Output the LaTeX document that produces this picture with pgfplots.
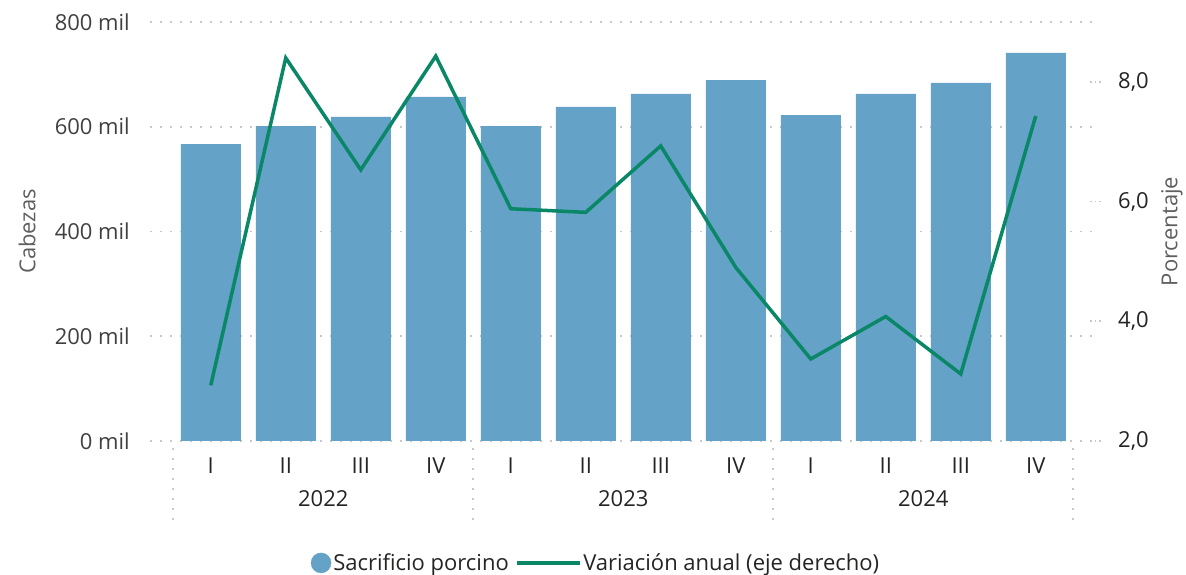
\documentclass[border=0pt]{standalone}
\usepackage{fontspec}
\setmainfont{Open Sans}
\usepackage{pgfplots}
\pgfplotsset{compat=1.18}
\definecolor{barblue}{HTML}{64A2C8}
\definecolor{linegreen}{HTML}{0A8766}
\definecolor{gridgray}{HTML}{C8C8C8}
\definecolor{labgray}{HTML}{605E5C}
\definecolor{tickdark}{HTML}{252423}
\newcommand\ff{\fontsize{22}{26}\selectfont}
\begin{document}
\begin{tikzpicture}[x=1pt,y=1pt]
\useasboundingbox (0,0) rectangle (1186,575);
\begin{axis}[
  at={(150pt,134pt)}, anchor=south west,
  scale only axis, width=945pt, height=419pt,
  xmin=-0.81, xmax=11.79, ymin=0, ymax=800,
  clip=false,
  axis line style={draw=none},
  major tick length=0pt,
  xtick={0,...,11},
  xticklabels={I,II,III,IV,I,II,III,IV,I,II,III,IV},
  xticklabel style={anchor=base, inner sep=0pt, yshift=-33pt, font=\ff, text=tickdark},
  ytick={0,200,400,600,800},
  yticklabels={0 mil,200 mil,400 mil,600 mil,800 mil},
  yticklabel style={anchor=east, inner sep=0pt, xshift=-20pt, font=\ff, text=black!75},
  ymajorgrids,
  grid style={gridgray, line width=1.6pt, dash pattern=on 1.6pt off 8.4pt},
  ylabel={Cabezas},
  ylabel style={at={(axis description cs:-0.130,0.5)}, anchor=center, font=\ff, text=labgray},
]
\addplot[ybar, bar width=0.8, fill=barblue, draw=none] coordinates {
 (0,567) (1,601) (2,619) (3,657) (4,601) (5,638) (6,663) (7,689) (8,622) (9,663) (10,684) (11,741)};
\pgfplotsinvokeforeach{-0.5,3.5,7.5,11.5}{
  \draw[gridgray, line width=1.6pt, dash pattern=on 1.6pt off 8.4pt] ([yshift=-7pt]axis cs:#1,0) -- ([yshift=-79pt]axis cs:#1,0);
}
\node[anchor=base, yshift=-66pt, font=\ff, text=tickdark] at (axis cs:1.5,0) {2022};
\node[anchor=base, yshift=-66pt, font=\ff, text=tickdark] at (axis cs:5.5,0) {2023};
\node[anchor=base, yshift=-66pt, font=\ff, text=tickdark] at (axis cs:9.5,0) {2024};
\end{axis}
\begin{axis}[
  at={(150pt,134pt)}, anchor=south west,
  scale only axis, width=945pt, height=419pt,
  xmin=-0.81, xmax=11.79, ymin=2, ymax=9,
  axis x line=none,
  axis y line*=right,
  axis line style={draw=none},
  ytick={2,4,6,8},
  major tick length=12pt, tick align=center,
  ytick style={gridgray, line width=1.6pt, dash pattern=on 1.6pt off 3pt},
  yticklabel pos=right,
  /pgf/number format/assume math mode=true,
  yticklabel={\pgfmathprintnumber[fixed, fixed zerofill, precision=1, use comma]{\tick}},
  yticklabel style={anchor=west, inner sep=0pt, xshift=17pt, font=\ff, text=tickdark},
  ylabel={Porcentaje},
  ylabel style={at={(axis description cs:1.0815,0.5)}, anchor=center, font=\ff, text=labgray},
  legend style={at={(axis description cs:0.472,-0.291)}, anchor=center, draw=none, fill=none,
    font=\ff, text=tickdark, legend columns=2,
    /tikz/every even column/.append style={column sep=4pt}},
]
\addlegendimage{legend image code/.code={\fill[barblue] (-9pt,0pt) circle (10pt);}}
\addlegendentry{Sacrificio porcino}
\addplot[linegreen, line width=3.5pt,
  legend image code/.code={\draw[linegreen, line width=3.5pt] (-4pt,0pt) -- (59pt,0pt);}] coordinates {
 (0,2.93) (1,8.40) (2,6.53) (3,8.43) (4,5.88) (5,5.82) (6,6.93) (7,4.90) (8,3.37) (9,4.08) (10,3.12) (11,7.43)};
\addlegendentry{Variación anual (eje derecho)}
\end{axis}
\end{tikzpicture}
\end{document}
